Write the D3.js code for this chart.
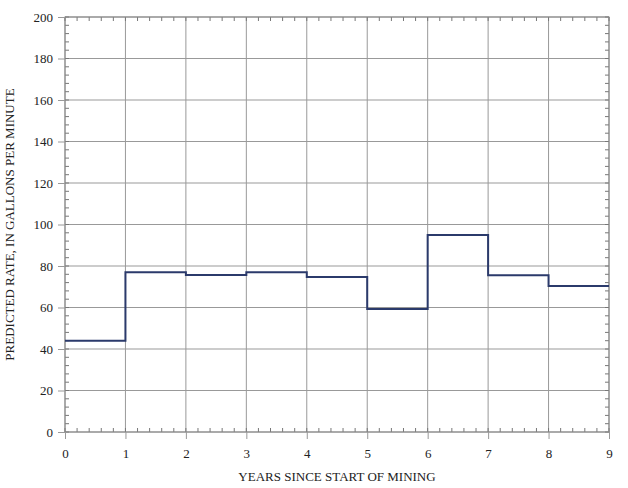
<!DOCTYPE html>
<html><head><meta charset="utf-8">
<script src="https://cdn.jsdelivr.net/npm/d3@7"></script>
<style>
body{margin:0;background:#fff}
text{font-family:"Liberation Serif","Times New Roman",serif;font-size:13px;fill:#222}
</style></head><body>
<script>
var years = [0,1,2,3,4,5,6,7,8,9];
var rates = [44,77,75.7,77,74.7,59.3,95,75.5,70.4];
var xTicks = [0,1,2,3,4,5,6,7,8,9];
var yTicks = [0,20,40,60,80,100,120,140,160,180,200];

var W=628,H=488, m={l:65,r:19,t:17,b:56};
var svg=d3.select("body").append("svg").attr("width",W).attr("height",H);
var x=d3.scaleLinear().domain([0,9]).range([m.l,W-m.r]);
var y=d3.scaleLinear().domain([0,200]).range([H-m.b,m.t]);
var g=svg.append("g");

// grid
g.selectAll(".gx").data(xTicks).enter().append("line")
 .attr("x1",d=>x(d)).attr("x2",d=>x(d)).attr("y1",y(0)).attr("y2",y(200))
 .attr("stroke","#999").attr("stroke-width",1);
g.selectAll(".gy").data(yTicks).enter().append("line")
 .attr("y1",d=>y(d)).attr("y2",d=>y(d)).attr("x1",x(0)).attr("x2",x(9))
 .attr("stroke","#999").attr("stroke-width",1);

// minor ticks all sides
var xm=d3.range(0,9.001,0.2), ym=d3.range(0,200.1,4);
function tk(data,f){g.selectAll(null).data(data).enter().append("line").each(f).attr("stroke","#777");}
tk(xm,function(d){d3.select(this).attr("x1",x(d)).attr("x2",x(d)).attr("y1",y(0)).attr("y2",y(0)-4);});
tk(xm,function(d){d3.select(this).attr("x1",x(d)).attr("x2",x(d)).attr("y1",y(200)).attr("y2",y(200)+4);});
tk(ym,function(d){d3.select(this).attr("y1",y(d)).attr("y2",y(d)).attr("x1",x(0)).attr("x2",x(0)+4);});
tk(ym,function(d){d3.select(this).attr("y1",y(d)).attr("y2",y(d)).attr("x1",x(9)).attr("x2",x(9)-4);});

// axes
var xa=svg.append("g").attr("transform","translate(0,"+y(0)+")")
 .call(d3.axisBottom(x).tickValues(xTicks).tickSize(7).tickPadding(10).tickFormat(d3.format("d")));
var ya=svg.append("g").attr("transform","translate("+x(0)+",0)")
 .call(d3.axisLeft(y).tickValues(yTicks).tickSize(7).tickPadding(5));
[xa,ya].forEach(a=>{a.select(".domain").remove();a.selectAll("line").attr("stroke","#999");
 a.selectAll("text").style("font-family","Liberation Serif,serif").style("font-size","13px").attr("fill","#222");});

// frame
g.append("rect").attr("x",x(0)).attr("y",y(200)).attr("width",x(9)-x(0)).attr("height",y(0)-y(200))
 .attr("fill","none").attr("stroke","#888");

// step line
var pts=[];
rates.forEach((r,i)=>{pts.push([years[i],r]);pts.push([years[i+1],r]);});
svg.append("path").datum(pts).attr("fill","none").attr("stroke","#2b3a6b").attr("stroke-width",2)
 .attr("d",d3.line().x(d=>x(d[0])).y(d=>y(d[1])));

svg.append("text").attr("x",(x(0)+x(9))/2).attr("y",481).attr("text-anchor","middle").text("YEARS SINCE START OF MINING");
svg.append("text").attr("transform","translate(14,"+(y(100))+") rotate(-90)").attr("text-anchor","middle")
 .text("PREDICTED RATE, IN GALLONS PER MINUTE");
</script></body></html>
